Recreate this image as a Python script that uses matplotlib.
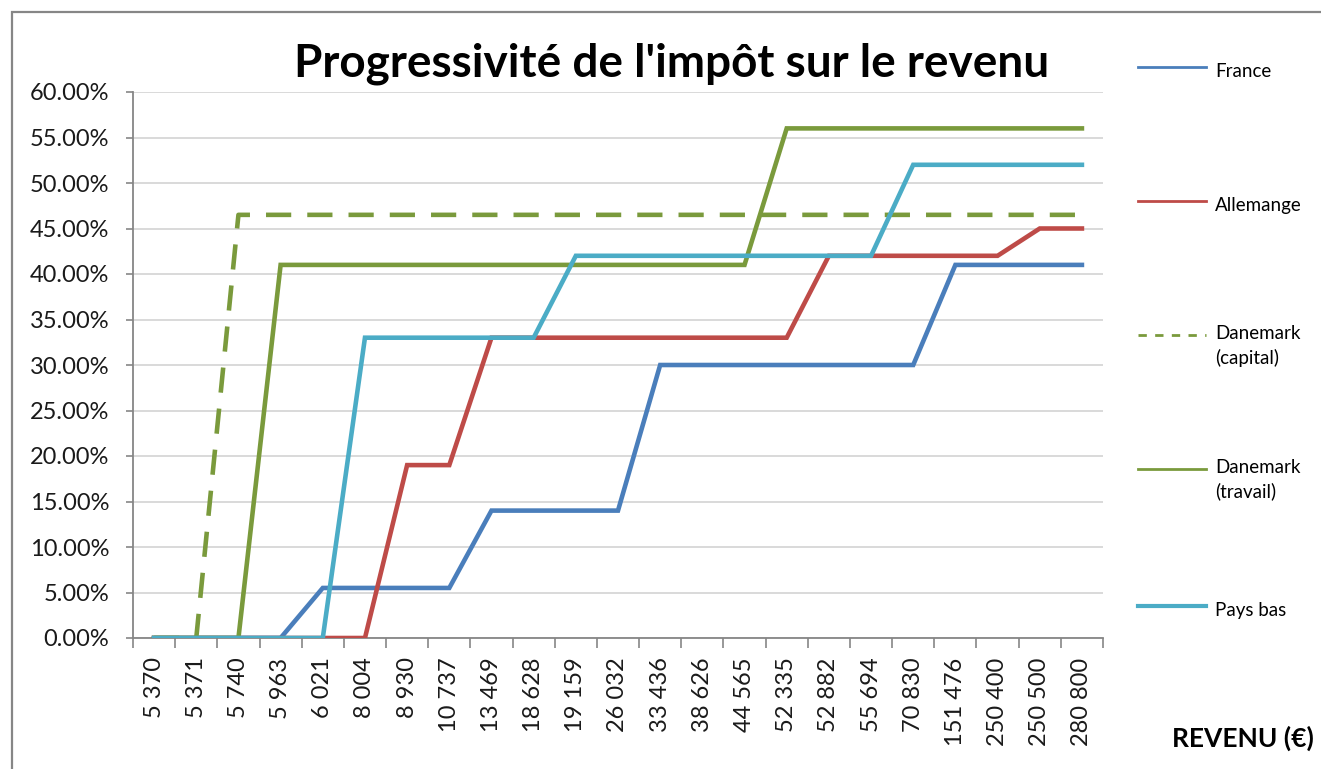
import matplotlib
matplotlib.use('Agg')
import matplotlib.pyplot as plt
from matplotlib.lines import Line2D
from matplotlib.patches import Rectangle
from matplotlib.ticker import FuncFormatter, FixedLocator

# revenus (categories of the x axis)
revenus = ['5 370', '5 371', '5 740', '5 963', '6 021', '8 004', '8 930',
           '10 737', '13 469', '18 628', '19 159', '26 032', '33 436',
           '38 626', '44 565', '52 335', '52 882', '55 694', '70 830',
           '151 476', '250 400', '250 500', '280 800']

# marginal rates in %
france = [0, 0, 0, 0, 5.5, 5.5, 5.5, 5.5, 14, 14, 14, 14, 30, 30, 30,
          30, 30, 30, 30, 41, 41, 41, 41]
allemagne = [0, 0, 0, 0, 0, 0, 19, 19, 33, 33, 33, 33, 33, 33, 33, 33,
             42, 42, 42, 42, 42, 45, 45]
danemark_capital = [0, 0, 46.5, 46.5, 46.5, 46.5, 46.5, 46.5, 46.5, 46.5,
                    46.5, 46.5, 46.5, 46.5, 46.5, 46.5, 46.5, 46.5, 46.5,
                    46.5, 46.5, 46.5, 46.5]
danemark_travail = [0, 0, 0, 41, 41, 41, 41, 41, 41, 41, 41, 41, 41, 41,
                    41, 56, 56, 56, 56, 56, 56, 56, 56]
pays_bas = [0, 0, 0, 0, 0, 33, 33, 33, 33, 33, 42, 42, 42, 42, 42, 42, 42,
            42, 52, 52, 52, 52, 52]

series = [
    ('France', france, '#4A7EBB', '-'),
    ('Allemange', allemagne, '#BE4B48', '-'),
    ('Danemark\n(capital)', danemark_capital, '#7A9A3C', '--'),
    ('Danemark\n(travail)', danemark_travail, '#7A9A3C', '-'),
    ('Pays bas', pays_bas, '#4BACC6', '-'),
]

W, H = 1321, 769
fig = plt.figure(figsize=(W / 100, H / 100), dpi=100)
ax = fig.add_axes([133 / W, 1 - 638 / H, (1103 - 133) / W, (638 - 92) / H])

font = ['Lato', 'DejaVu Sans']
xs = list(range(len(revenus)))
for name, vals, color, style in series:
    line, = ax.plot(xs, vals, color=color, linewidth=3.3, linestyle=style,
                    solid_joinstyle='miter', zorder=3)
    if style == '--':
        line.set_dashes((5.5, 3.5))

ax.set_xlim(-0.5, len(revenus) - 0.5)
ax.set_ylim(0, 60)
ax.set_yticks(range(0, 61, 5))
ax.yaxis.set_major_formatter(FuncFormatter(lambda v, p: '{:.2f}%'.format(v)))
ax.grid(axis='y', color='#D9D9D9', linewidth=1.4, zorder=0)

ax.xaxis.set_major_locator(FixedLocator([i - 0.5 for i in range(len(revenus) + 1)]))
ax.xaxis.set_minor_locator(FixedLocator(xs))
ax.set_xticklabels([''] * (len(revenus) + 1))
ax.set_xticklabels(revenus, minor=True, rotation=90)
ax.tick_params(axis='x', which='major', length=7, width=1.2, color='#868686')
ax.tick_params(axis='x', which='minor', length=0, pad=14, labelsize=17)
ax.tick_params(axis='y', length=5, width=1.2, color='#868686', pad=12, labelsize=17)
for lab in ax.get_xticklabels(minor=True) + ax.get_yticklabels():
    lab.set_family(font)
    lab.set_color('#1a1a1a')

for side in ['top', 'right']:
    ax.spines[side].set_visible(False)
for side in ['left', 'bottom']:
    ax.spines[side].set_color('#868686')
    ax.spines[side].set_linewidth(1.3)

# chart border (cut at right and bottom)
fig.patches.append(Rectangle((12 / W, -0.1), 1.2, 1 - 12 / H + 0.1,
                             transform=fig.transFigure, fill=False,
                             edgecolor='#868686', linewidth=1.6))

fig.text(672 / W, 1 - 64 / H, "Progressivité de l'impôt sur le revenu",
         ha='center', va='center', fontsize=33, fontweight='bold', family=font)
fig.text(1243 / W, 1 - 738 / H, 'REVENU (€)', ha='center', va='center',
         fontsize=19, fontweight='bold', family=font)

# legend
leg_y = [67, 201, 335, 469, 606]
for (name, vals, color, style), y in zip(series, leg_y):
    lw = 3 if name == 'Pays bas' else 2
    h = Line2D([1138 / W, 1206 / W], [1 - y / H] * 2, transform=fig.transFigure,
               color=color, linewidth=lw, linestyle=style)
    if style == '--':
        h.set_dashes((3, 3))
    fig.lines.append(h)
    fig.text(1215 / W, 1 - (y + 10) / H if '\n' not in name else 1 - (y - 10) / H,
             name, ha='left', va='baseline' if '\n' not in name else 'top',
             fontsize=13.5, family=font, linespacing=1.45)

fig.savefig('out.png', dpi=100)
